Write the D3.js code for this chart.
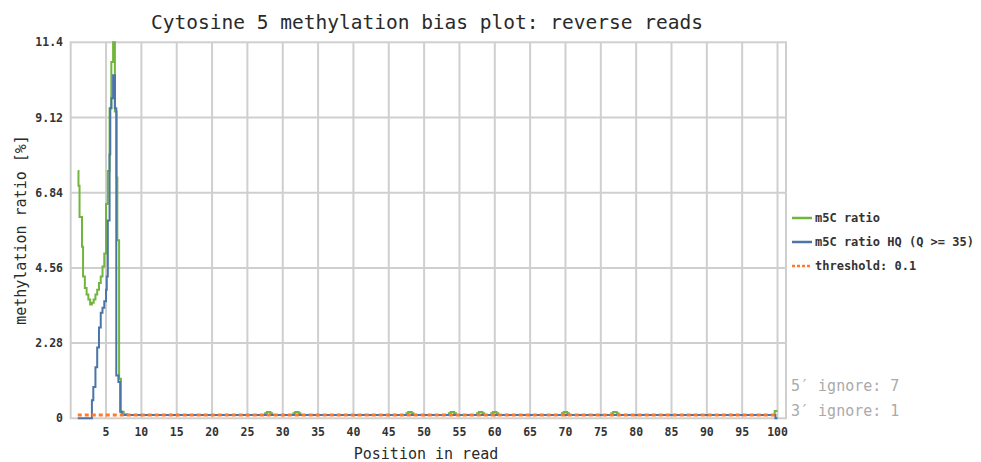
<!DOCTYPE html>
<html>
<head>
<meta charset="utf-8">
<script src="https://cdn.jsdelivr.net/npm/d3@7"></script>
<style>
  body { margin: 0; background: #fff; }
  svg text { font-family: "DejaVu Sans Mono", "Liberation Mono", monospace; }
</style>
</head>
<body>
<svg id="chart" width="981" height="462"></svg>
<script>
// positions in read where the step value changes
const ratioPos = [1, 1.1, 1.25, 1.6, 1.75, 2, 2.25, 2.5, 2.75, 3, 3.25, 3.5, 3.75, 4, 4.25, 4.5, 4.75, 5, 5.25, 5.5, 5.75, 6, 6.25, 6.5, 6.6, 6.85, 7.1, 7.5, 8,
  27.5, 27.75, 28.25, 28.5, 31.5, 31.75, 32.25, 32.5, 47.5, 47.75, 48.25, 48.5, 53.5, 53.75, 54.25, 54.5,
  57.5, 57.75, 58.25, 58.5, 59.5, 59.75, 60.25, 60.5, 69.5, 69.75, 70.25, 70.5, 76.5, 76.75, 77.25, 77.5, 99.6, 100]
const ratioVal = [7.5, 7.05, 6.1, 5.2, 4.3, 3.95, 3.75, 3.6, 3.45, 3.5, 3.6, 3.75, 3.9, 4.1, 4.3, 4.6, 5.0, 6.5, 7.5, 9.4, 10.8, 11.4, 9.3, 7.3, 5.4, 1.2, 0.2, 0.12, 0.1,
  0.15, 0.19, 0.15, 0.1, 0.15, 0.19, 0.15, 0.1, 0.15, 0.19, 0.15, 0.1, 0.15, 0.19, 0.15, 0.1,
  0.15, 0.19, 0.15, 0.1, 0.15, 0.19, 0.15, 0.1, 0.15, 0.19, 0.15, 0.1, 0.15, 0.19, 0.15, 0.1, 0.22, 0.22]

const hqPos = [1, 3, 3.2, 3.5, 3.75, 4, 4.25, 4.5, 4.75, 5, 5.1, 5.25, 5.5, 5.6, 5.75, 6, 6.25, 6.45, 6.75, 7, 7.25, 99.7, 100]
const hqVal = [0, 0.55, 0.95, 1.55, 2.15, 2.75, 3.2, 3.35, 3.55, 3.9, 4.3, 6.0, 8.0, 9.4, 9.7, 10.4, 9.4, 1.3, 1.1, 0.2, 0.1, 0.0, 0.0]

const thresholdVal = 0.1
const yTicks = [0, 2.28, 4.56, 6.84, 9.12, 11.4]
const xTicks = [5, 10, 15, 20, 25, 30, 35, 40, 45, 50, 55, 60, 65, 70, 75, 80, 85, 90, 95, 100]
const legendNames = ["m5C ratio", "m5C ratio HQ (Q >= 35)", "threshold: 0.1"]
const ignoreNotes = ["5\u2032 ignore: 7", "3\u2032 ignore: 1"]

const green = "#72b53c", blue = "#4a75a6", orange = "#ff7a2a", gridCol = "#cfcfcf"

const svg = d3.select("#chart")
const plotL = 70.7, plotR = 786, plotT = 42.3, plotB = 418.3

const x = d3.scaleLinear().domain([0, 101.2]).range([plotL, plotR])
const y = d3.scaleLinear().domain([0, 11.4]).range([plotB, plotT])

// grid
svg.append("g")
  .selectAll("line")
  .data(xTicks)
  .join("line")
  .attr("x1", d => x(d)).attr("x2", d => x(d))
  .attr("y1", plotT).attr("y2", plotB)
  .attr("stroke", gridCol).attr("stroke-width", 2)

svg.append("g")
  .selectAll("line")
  .data(yTicks.slice(1, -1))
  .join("line")
  .attr("x1", plotL).attr("x2", plotR)
  .attr("y1", d => y(d)).attr("y2", d => y(d))
  .attr("stroke", gridCol).attr("stroke-width", 2)

svg.append("rect")
  .attr("x", plotL).attr("y", plotT)
  .attr("width", plotR - plotL).attr("height", plotB - plotT)
  .attr("fill", "none").attr("stroke", gridCol).attr("stroke-width", 2)

// tick labels
svg.append("g")
  .selectAll("text")
  .data(yTicks)
  .join("text")
  .attr("x", 63).attr("y", d => y(d) + 4)
  .attr("text-anchor", "end")
  .attr("font-size", 11.5).attr("font-weight", "bold").attr("fill", "#333")
  .text(d => d)

svg.append("g")
  .selectAll("text")
  .data(xTicks)
  .join("text")
  .attr("x", d => x(d)).attr("y", 436)
  .attr("text-anchor", "middle")
  .attr("font-size", 11.5).attr("font-weight", "bold").attr("fill", "#333")
  .text(d => d)

// series
const line = d3.line()
  .x(d => x(d[0]))
  .y(d => y(d[1]))
  .curve(d3.curveStepAfter)

svg.append("path")
  .datum(d3.zip(ratioPos, ratioVal))
  .attr("d", line)
  .attr("fill", "none").attr("stroke", green).attr("stroke-width", 2)

svg.append("path")
  .datum(d3.zip(hqPos, hqVal))
  .attr("d", line)
  .attr("fill", "none").attr("stroke", blue).attr("stroke-width", 2)

svg.append("path")
  .datum([[1, thresholdVal], [100, thresholdVal]])
  .attr("d", d3.line().x(d => x(d[0])).y(d => y(d[1])))
  .attr("fill", "none").attr("stroke", orange).attr("stroke-width", 3)
  .attr("stroke-dasharray", "4,3")

// titles
svg.append("text")
  .attr("x", 427).attr("y", 29)
  .attr("text-anchor", "middle")
  .attr("font-size", 19.5).attr("fill", "#2a2a2a")
  .text("Cytosine 5 methylation bias plot: reverse reads")

svg.append("text")
  .attr("x", 426).attr("y", 459)
  .attr("text-anchor", "middle")
  .attr("font-size", 15).attr("fill", "#2a2a2a")
  .text("Position in read")

svg.append("text")
  .attr("transform", "translate(26,230) rotate(-90)")
  .attr("text-anchor", "middle")
  .attr("font-size", 15).attr("fill", "#2a2a2a")
  .text("methylation ratio [%]")

// legend
const legend = svg.append("g")
  .selectAll("g")
  .data(legendNames)
  .join("g")
  .attr("transform", (d, i) => `translate(792,${218 + i * 24})`)

legend.append("line")
  .attr("x1", 0).attr("x2", 20)
  .attr("stroke", (d, i) => [green, blue, orange][i])
  .attr("stroke-width", 2.5)
  .attr("stroke-dasharray", (d, i) => i == 2 ? "3,2" : null)

legend.append("text")
  .attr("x", 23).attr("y", 4)
  .attr("font-size", 12).attr("font-weight", "bold").attr("fill", "#333")
  .text(d => d)

svg.append("g")
  .selectAll("text")
  .data(ignoreNotes)
  .join("text")
  .attr("x", 791).attr("y", (d, i) => 391 + i * 25)
  .attr("font-size", 15).attr("fill", "#aaa")
  .text(d => d)
</script>
</body>
</html>
